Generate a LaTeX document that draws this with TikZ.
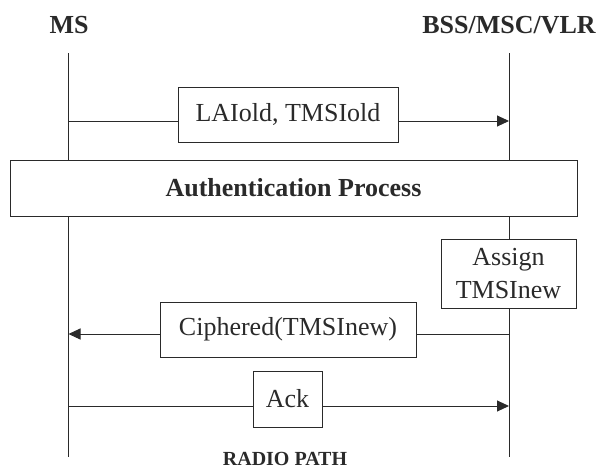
\documentclass[tikz,border=0pt]{standalone}
\usepackage{fontspec}
\setmainfont{Liberation Serif}
\usetikzlibrary{arrows.meta}
\definecolor{ink}{HTML}{2A2A2A}
\tikzset{
  lifeline/.style={draw=ink, line width=1pt},
  msg/.style={draw=ink, line width=1pt, -{Triangle[length=12pt,width=11pt]}},
  msgbox/.style={draw=ink, line width=1pt, fill=white, text=ink, inner sep=0pt,
                 font=\fontsize{26}{34}\selectfont, align=center},
  head/.style={text=ink, inner sep=0pt, anchor=base, font=\fontsize{26}{30}\selectfont\bfseries}
}
\begin{document}
\begin{tikzpicture}[x=1pt, y=-1pt]
  \useasboundingbox (0,0) rectangle (598,469);

  % column headings
  \node[head] (ms)  at (69,33)  {MS};
  \node[head] (bss) at (509,33) {BSS/MSC/VLR};

  % lifeline end points
  \coordinate (msTop) at (68.5,53);
  \coordinate (msBot) at (68.5,457);
  \coordinate (bsTop) at (509,53);
  \coordinate (bsBot) at (509,457);
  \draw[lifeline] (msTop) -- (msBot);
  \draw[lifeline] (bsTop) -- (bsBot);

  % message end points on the lifelines
  \coordinate (m1) at (68.5,121);
  \coordinate (b1) at (509,121);
  \coordinate (m2) at (68.5,334);
  \coordinate (b2) at (509,334);
  \coordinate (m3) at (68.5,406);
  \coordinate (b3) at (509,406);

  \draw[msg] (m1) -- (b1);
  \draw[msg] (b2) -- (m2);
  \draw[msg] (m3) -- (b3);

  % boxes laid over the lines
  \node[msgbox, minimum width=220pt, minimum height=55pt] (lai) at (288,114.5) {LAIold, TMSIold};
  \node[msgbox, minimum width=567pt, minimum height=56pt, font=\fontsize{26}{34}\selectfont\bfseries] (auth) at (293.5,188) {Authentication Process};
  \node[msgbox, minimum width=135pt, minimum height=69pt, font=\fontsize{26}{33}\selectfont] (assign) at (508.5,273.5) {Assign\\TMSInew};
  \node[msgbox, minimum width=256pt, minimum height=55pt] (ciph) at (288,329.5) {Ciphered(TMSInew)};
  \node[msgbox, minimum width=69pt, minimum height=56pt] (ack) at (287.5,399) {Ack};

  % path caption
  \node[head, font=\fontsize{20}{24}\selectfont\bfseries] (radio) at (285,465) {RADIO PATH};
\end{tikzpicture}
\end{document}
